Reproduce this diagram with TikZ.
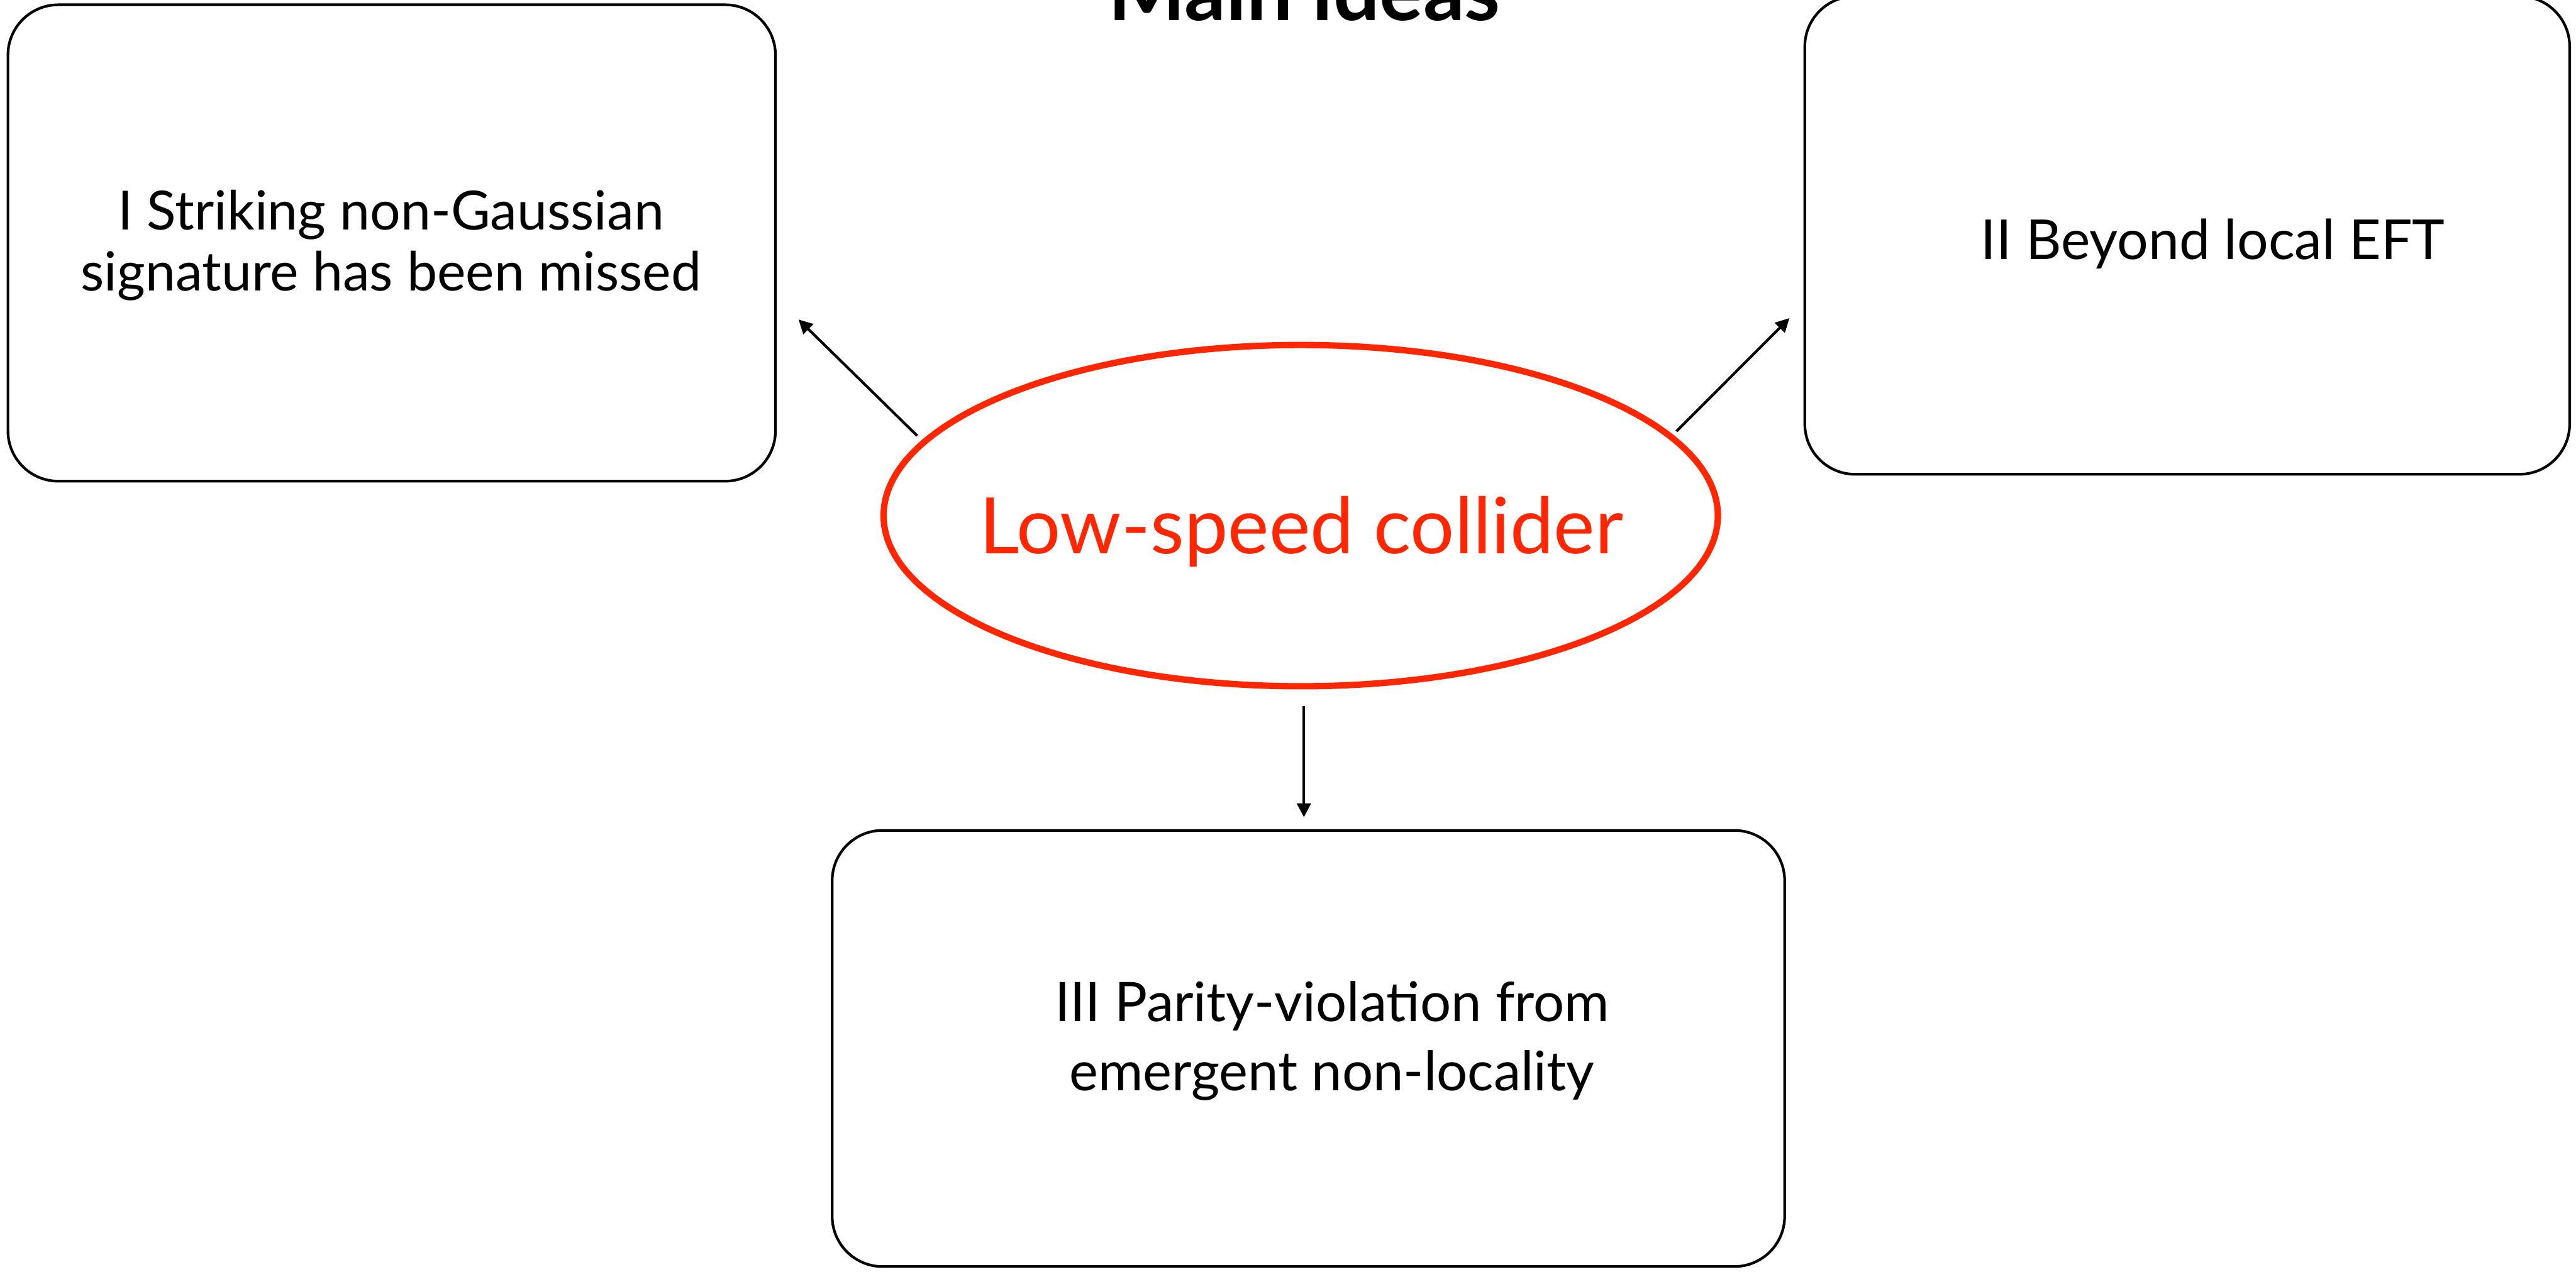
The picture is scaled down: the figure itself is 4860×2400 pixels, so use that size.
\documentclass[tikz,border=0pt]{standalone}
\usepackage{fontspec}
\setmainfont{Lato}
\usetikzlibrary{arrows.meta,shapes.geometric}
\definecolor{kred}{RGB}{255,38,0}
\begin{document}
\begin{tikzpicture}[x=1pt,y=-1pt,
  ideabox/.style={draw=black, line width=5pt, rounded corners=95pt, inner sep=0pt, outer sep=0pt},
  ideatext/.style={anchor=base, inner sep=0pt, font=\fontsize{102}{125}\selectfont},
  arr/.style={line width=5pt, -{Triangle[length=26pt,width=26pt]}},
]
\useasboundingbox (0,0) rectangle (4860,2400);
\clip (0,0) rectangle (4860,2400);
\node[anchor=base, inner sep=0pt, font=\fontsize{154}{180}\selectfont\bfseries] (title) at (2461,38) {Main ideas};
\node[ideabox, minimum width=1448pt, minimum height=899pt] (b1) at (739,458.5) {};
\node[ideabox, minimum width=1443pt, minimum height=902pt] (b2) at (4126.5,444) {};
\node[ideabox, minimum width=1797pt, minimum height=823pt] (b3) at (2468.5,1978.5) {};
\node[ellipse, draw=kred, line width=12pt, minimum width=1574pt, minimum height=644pt, inner sep=0pt, outer sep=0pt] (e) at (2454,973) {};
\node[anchor=base, inner sep=0pt, text=kred, font=\fontsize{147}{180}\selectfont] (lbl) at (2455,1045) {Low-speed collider};
\node[ideatext] (t1a) at (738,434) {I Striking non-Gaussian};
\node[ideatext] (t1b) at (738,549) {signature has been missed};
\node[ideatext, font=\fontsize{104}{130}\selectfont] (t2) at (4175,490) {II Beyond local EFT};
\node[ideatext, font=\fontsize{103}{130}\selectfont] (t3a) at (2513,1928) {III Parity-violation from};
\node[ideatext, font=\fontsize{103}{130}\selectfont] (t3b) at (2513,2058) {emergent non-locality};
\draw[arr, shorten <=18pt, shorten >=61pt] (e.169) -- (b1.-8.2);
\draw[arr, shorten <=15pt, shorten >=41pt] (e.12.5) -- (b2.-170.5);
\draw[arr, shorten <=38pt, shorten >=25pt] ([xshift=6pt]e.south) -- ([xshift=6pt]e.south |- b3.north);
\end{tikzpicture}
\end{document}
